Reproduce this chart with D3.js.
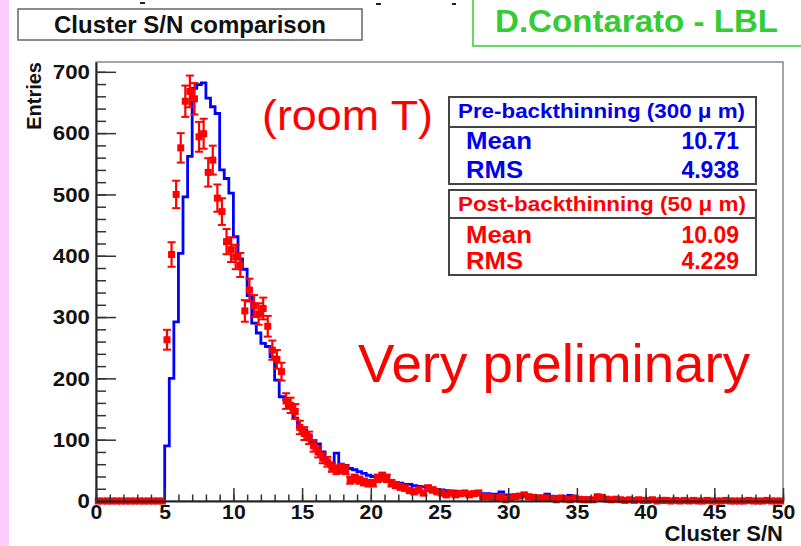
<!DOCTYPE html>
<html>
<head>
<meta charset="utf-8">
<script src="https://cdn.jsdelivr.net/npm/d3@7"></script>
<style>
body { margin: 0; background: #fff; }
svg { display: block; }
text { font-family: "Liberation Sans", Arial, Helvetica, sans-serif; }
</style>
</head>
<body>
<svg id="chart" width="801" height="546"></svg>
<script>
// 150 bins of width 1/3 from 0 to 50
var bin_width = 1 / 3;

// Pre-backthinning (300 um), blue histogram
var pre_counts = [
    0, 0, 0, 0, 0, 0, 0, 0, 0, 0, 0, 0, 0, 0, 0,
    90, 200, 292, 404, 496, 562, 673, 679, 682, 657,
    643, 632, 540, 526, 502, 431, 395, 378, 335, 290,
    274, 257, 252, 235, 197, 170, 165, 155, 135, 120,
    116, 108, 97, 93, 80, 65, 62, 78, 60, 58,
    53, 51, 48, 45, 42, 40, 37, 34, 32, 31,
    29, 29, 27, 27, 25, 24, 23, 21, 20, 19,
    18, 17, 16, 16, 15, 14, 14, 13, 13, 12,
    12, 11, 11, 15, 10, 10, 10, 9, 9, 9,
    8, 8, 8, 11, 8, 7, 7, 7, 9, 6,
    6, 5, 5, 4, 4, 3, 3, 3, 3, 2,
    2, 2, 2, 2, 1, 1, 1, 1, 1, 1,
    1, 1, 1, 0, 1, 0, 1, 0, 0, 1,
    0, 0, 0, 1, 0, 0, 0, 0, 0, 0,
    0, 0, 0, 0, 0
];

// Post-backthinning (50 um), red points with errors
var post_counts = [
    0, 0, 0, 0, 0, 0, 0, 0, 0, 0, 0, 0, 0, 0, 0,
    263, 402, 500, 576, 652, 668, 656, 594, 599, 536,
    556, 494, 472, 423, 410, 398, 385, 310, 344, 318,
    305, 314, 285, 246, 231, 211, 163, 156, 146, 120,
    110, 103, 90, 80, 70, 64, 55, 51, 53, 51,
    34, 37, 34, 31, 29, 29, 37, 40, 37, 29,
    26, 23, 21, 17, 15, 18, 13, 21, 18, 15,
    13, 10, 13, 10, 12, 13, 10, 12, 13, 7,
    7, 6, 5, 7, 2, 5, 7, 8, 10, 7,
    6, 5, 5, 5, 4, 2, 5, 3, 2, 5,
    3, 2, 2, 2, 7, 6, 3, 2, 3, 2,
    1, 2, 1, 2, 1, 1, 2, 0, 1, 1,
    0, 1, 0, 1, 0, 1, 0, 0, 1, 0,
    0, 0, 1, 0, 0, 0, 0, 1, 0, 0,
    0, 1, 0, 0, 0
];

var x_ticks = [0, 5, 10, 15, 20, 25, 30, 35, 40, 45, 50];
var y_ticks = [0, 100, 200, 300, 400, 500, 600, 700];

var pre_stats = [["Mean", "10.71"], ["RMS", "4.938"]];
var post_stats = [["Mean", "10.09"], ["RMS", "4.229"]];

var svg = d3.select("#chart");

var x = d3.scaleLinear().domain([0, 50]).range([96, 783]);
var y = d3.scaleLinear().domain([0, 716]).range([501, 62]);

// pink slide strip on the left
svg.append("rect").attr("x", 0).attr("y", 0).attr("width", 9).attr("height", 546).attr("fill", "#ffccff");

// stray marks at the top
svg.append("rect").attr("x", 140).attr("y", 2).attr("width", 5).attr("height", 2).attr("fill", "#222");
svg.append("rect").attr("x", 376).attr("y", 3).attr("width", 5).attr("height", 2).attr("fill", "#222");
svg.append("rect").attr("x", 452).attr("y", 3).attr("width", 4).attr("height", 2).attr("fill", "#222");

// title box
svg.append("rect")
    .attr("x", 18).attr("y", 9).attr("width", 344).attr("height", 31)
    .attr("fill", "#fff").attr("stroke", "#666").attr("stroke-width", 1.5);
svg.append("text")
    .attr("x", 54).attr("y", 33)
    .attr("font-size", 24).attr("font-weight", "bold").attr("fill", "#111")
    .attr("textLength", 272).attr("lengthAdjust", "spacingAndGlyphs")
    .text("Cluster S/N comparison");

// author box
svg.append("rect")
    .attr("x", 473).attr("y", -5).attr("width", 340).attr("height", 51)
    .attr("fill", "#fff").attr("stroke", "#33cc33").attr("stroke-width", 1.5);
svg.append("text")
    .attr("x", 495).attr("y", 32)
    .attr("font-size", 32).attr("font-weight", "bold").attr("fill", "#33cc33")
    .attr("textLength", 283).attr("lengthAdjust", "spacingAndGlyphs")
    .text("D.Contarato - LBL");

// frame
svg.append("rect")
    .attr("x", x(0)).attr("y", y(716))
    .attr("width", x(50) - x(0)).attr("height", y(0) - y(716))
    .attr("fill", "none").attr("stroke", "#888").attr("stroke-width", 1.5);

// ----------
// blue histogram
var bins = pre_counts.map(function(c, i) {
    return {lo: i * bin_width, hi: (i + 1) * bin_width, c: c};
});
var step_points = [[0, 0]];
bins.forEach(function(b) {
    step_points.push([b.lo, b.c]);
    step_points.push([b.hi, b.c]);
});
step_points.push([50, 0]);

var line = d3.line()
    .x(function(d) { return x(d[0]); })
    .y(function(d) { return y(d[1]); });

svg.append("path")
    .datum(step_points)
    .attr("d", line)
    .attr("fill", "none")
    .attr("stroke", "#0000ff")
    .attr("stroke-width", 2.8);

// ----------
// red points
var red = "#ff0000";
var points = post_counts.map(function(c, i) {
    return {lo: i * bin_width, hi: (i + 1) * bin_width, mid: (i + 0.5) * bin_width, c: c, e: Math.sqrt(c)};
});

var g_red = svg.append("g");

g_red.selectAll(".xerr").data(points).enter().append("line")
    .attr("x1", function(d) { return x(d.lo); })
    .attr("x2", function(d) { return x(d.hi); })
    .attr("y1", function(d) { return y(d.c); })
    .attr("y2", function(d) { return y(d.c); })
    .attr("stroke", red).attr("stroke-width", 2);

var with_err = points.filter(function(d) { return d.c > 0; });

g_red.selectAll(".yerr").data(with_err).enter().append("line")
    .attr("x1", function(d) { return x(d.mid); })
    .attr("x2", function(d) { return x(d.mid); })
    .attr("y1", function(d) { return y(d.c - d.e); })
    .attr("y2", function(d) { return y(d.c + d.e); })
    .attr("stroke", red).attr("stroke-width", 2.2);

[-1, 1].forEach(function(s) {
    g_red.selectAll(".cap" + s).data(with_err).enter().append("line")
        .attr("x1", function(d) { return x(d.mid) - 4; })
        .attr("x2", function(d) { return x(d.mid) + 4; })
        .attr("y1", function(d) { return y(d.c + s * d.e); })
        .attr("y2", function(d) { return y(d.c + s * d.e); })
        .attr("stroke", red).attr("stroke-width", 2);
});

g_red.selectAll(".marker").data(points).enter().append("rect")
    .attr("x", function(d) { return x(d.mid) - 3.5; })
    .attr("y", function(d) { return y(d.c) - 3.5; })
    .attr("width", 7).attr("height", 7)
    .attr("fill", red);

// ----------
// axes
var minor_y = d3.range(0, 716, 20);
var minor_x = d3.range(0, 51, 1);

function style_axis(g) {
    g.attr("font-size", null).attr("font-family", null);
    g.selectAll("line").attr("stroke", "#333").attr("stroke-width", 1.5);
    g.selectAll("path").attr("stroke", "#222").attr("stroke-width", 2);
    g.selectAll("text")
        .style("font-size", "21px").style("font-weight", "bold")
        .attr("fill", "#111");
}

// stretch the ROOT-style labels to the widths seen in the picture
function widen_labels(g, digit_w) {
    g.selectAll("text").each(function() {
        var n = this.textContent.length;
        this.setAttribute("lengthAdjust", "spacingAndGlyphs");
        this.setAttribute("textLength", n * digit_w);
    });
}

svg.append("g")
    .attr("transform", "translate(" + x(0) + ",0)")
    .call(d3.axisLeft(y).tickValues(minor_y).tickSize(-10).tickFormat(""))
    .call(function(g) { g.select(".domain").remove(); })
    .call(style_axis);

svg.append("g")
    .attr("transform", "translate(" + x(0) + ",0)")
    .call(d3.axisLeft(y).tickValues(y_ticks).tickSizeInner(-20).tickSizeOuter(0).tickPadding(6))
    .call(style_axis)
    .call(widen_labels, 12.4);

svg.append("g")
    .attr("transform", "translate(0," + y(0) + ")")
    .call(d3.axisBottom(x).tickValues(minor_x).tickSize(-6.5).tickFormat(""))
    .call(function(g) { g.select(".domain").remove(); })
    .call(style_axis);

svg.append("g")
    .attr("transform", "translate(0," + y(0) + ")")
    .call(d3.axisBottom(x).tickValues(x_ticks).tickSizeInner(-13).tickSizeOuter(0).tickPadding(3))
    .call(style_axis)
    .call(widen_labels, 11.8);

// axis titles
svg.append("text")
    .attr("transform", "translate(41,62) rotate(-90)")
    .attr("text-anchor", "end")
    .attr("font-size", 20).attr("font-weight", "bold").attr("fill", "#111")
    .text("Entries");

svg.append("text")
    .attr("x", 783).attr("y", 541)
    .attr("text-anchor", "end")
    .attr("font-size", 22).attr("font-weight", "bold").attr("fill", "#111")
    .text("Cluster S/N");

// ----------
// annotations
svg.append("text")
    .attr("x", 262).attr("y", 130)
    .attr("font-size", 43).attr("fill", red)
    .attr("textLength", 171).attr("lengthAdjust", "spacingAndGlyphs")
    .text("(room T)");

svg.append("text")
    .attr("x", 358).attr("y", 382)
    .attr("font-size", 54).attr("fill", red)
    .attr("textLength", 392).attr("lengthAdjust", "spacingAndGlyphs")
    .text("Very preliminary");

// ----------
// stats boxes
function stats_box(top, bottom, sep, title, title_base, title_len, rows, row_base, color) {
    svg.append("rect")
        .attr("x", 449).attr("y", top).attr("width", 307).attr("height", bottom - top)
        .attr("fill", "#fff").attr("stroke", "#444").attr("stroke-width", 2);
    svg.append("line")
        .attr("x1", 449).attr("x2", 756).attr("y1", sep).attr("y2", sep)
        .attr("stroke", "#444").attr("stroke-width", 2);
    svg.append("text")
        .attr("x", 458).attr("y", title_base)
        .attr("font-size", 20).attr("font-weight", "bold").attr("fill", color)
        .attr("textLength", title_len).attr("lengthAdjust", "spacingAndGlyphs")
        .text(title);
    rows.forEach(function(r, i) {
        svg.append("text")
            .attr("x", 466).attr("y", row_base[i])
            .attr("font-size", 23).attr("font-weight", "bold").attr("fill", color)
            .attr("textLength", r[0] == "Mean" ? 66 : 57).attr("lengthAdjust", "spacingAndGlyphs")
            .text(r[0]);
        svg.append("text")
            .attr("x", 739).attr("y", row_base[i])
            .attr("text-anchor", "end")
            .attr("font-size", 23).attr("font-weight", "bold").attr("fill", color)
            .text(r[1]);
    });
}

stats_box(97, 184, 127, "Pre-backthinning (300 \u03bc m)", 118, 287, pre_stats, [149, 178], "#0000ee");
stats_box(190, 275, 218, "Post-backthinning (50 \u03bc m)", 211, 288, post_stats, [243, 269], "#ff0000");
</script>
</body>
</html>
